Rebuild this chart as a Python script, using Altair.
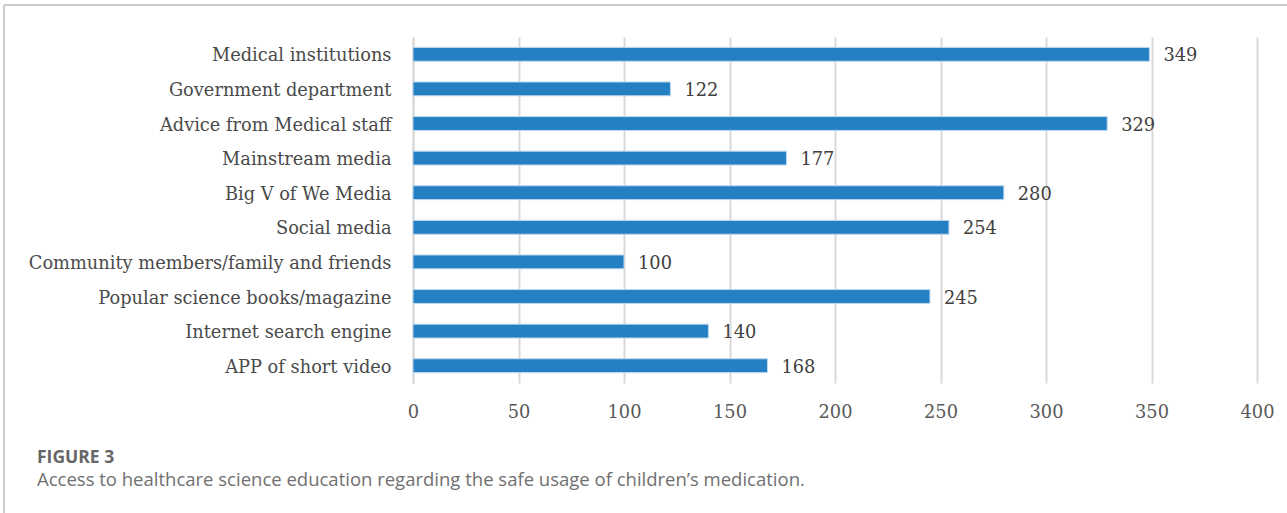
import altair as alt
import pandas as pd

categories = [
    "Medical institutions",
    "Government department",
    "Advice from Medical staff",
    "Mainstream media",
    "Big V of We Media",
    "Social media",
    "Community members/family and friends",
    "Popular science books/magazine",
    "Internet search engine",
    "APP of short video",
]
values = [349, 122, 329, 177, 280, 254, 100, 245, 140, 168]
x_ticks = [0, 50, 100, 150, 200, 250, 300, 350, 400]
fig_label = "FIGURE 3"
caption = "Access to healthcare science education regarding the safe usage of children\u2019s medication."

df = pd.DataFrame({"category": categories, "value": values})

SERIF = "DejaVu Serif"
FS = 17.8
W, H = 844, 346

y_enc = alt.Y(
    "category:N",
    sort=categories,
    scale=alt.Scale(paddingInner=0.6, paddingOuter=0.3),
    axis=alt.Axis(
        title=None, ticks=False, domain=True, domainColor="#d9d9d9", domainWidth=2,
        labelFont=SERIF, labelFontSize=FS, labelColor="#4a4a4a", labelPadding=22,
        labelLimit=500, labelOffset=2,
    ),
)
x_enc = alt.X(
    "value:Q",
    scale=alt.Scale(domain=[0, 400], nice=False),
    axis=alt.Axis(
        title=None, values=x_ticks, ticks=False, domain=False, grid=True,
        gridColor="#d9d9d9", gridWidth=2, labelFlush=False,
        labelFont=SERIF, labelFontSize=FS, labelColor="#595959", labelPadding=20,
    ),
)

bars = alt.Chart(df).mark_bar(color="#2580c3", stroke="#bcd8ee", strokeWidth=1).encode(x=x_enc, y=y_enc)
labels = alt.Chart(df).mark_text(
    align="left", baseline="middle", dx=14, dy=2, font=SERIF, fontSize=FS, color="#404040"
).encode(x="value:Q", y=alt.Y("category:N", sort=categories), text="value:Q")

cap_df = pd.DataFrame({"t": [fig_label]})
fig_text = alt.Chart(cap_df).mark_text(
    align="left", baseline="alphabetic", font="Open Sans", fontSize=17.5, fontWeight="bold",
    color="#666666"
).encode(x=alt.value(37 - 413), y=alt.value(463 - 37), text="t:N")
cap_df2 = pd.DataFrame({"t": [caption]})
cap_text = alt.Chart(cap_df2).mark_text(
    align="left", baseline="alphabetic", font="Open Sans", fontSize=18.5, color="#707070"
).encode(x=alt.value(37 - 413), y=alt.value(486 - 37), text="t:N")

border_df = pd.DataFrame({"a": [0]})
top_border = alt.Chart(border_df).mark_rule(color="#cccccc", strokeWidth=2).encode(
    x=alt.value(4 - 413), x2=alt.value(1287 - 413), y=alt.value(5 - 37)
)
left_border = alt.Chart(border_df).mark_rule(color="#cccccc", strokeWidth=2).encode(
    x=alt.value(4 - 413), y=alt.value(5 - 37), y2=alt.value(513 - 37)
)

chart = alt.layer(bars, labels, fig_text, cap_text, top_border, left_border).properties(
    width=W, height=H,
    autosize=alt.AutoSizeParams(type="none"),
    padding={"left": 413, "top": 37, "right": 30, "bottom": 130},
    background="white",
).configure_view(stroke=None)

chart.save("out.html", embed_options={"renderer": "svg", "actions": False})
